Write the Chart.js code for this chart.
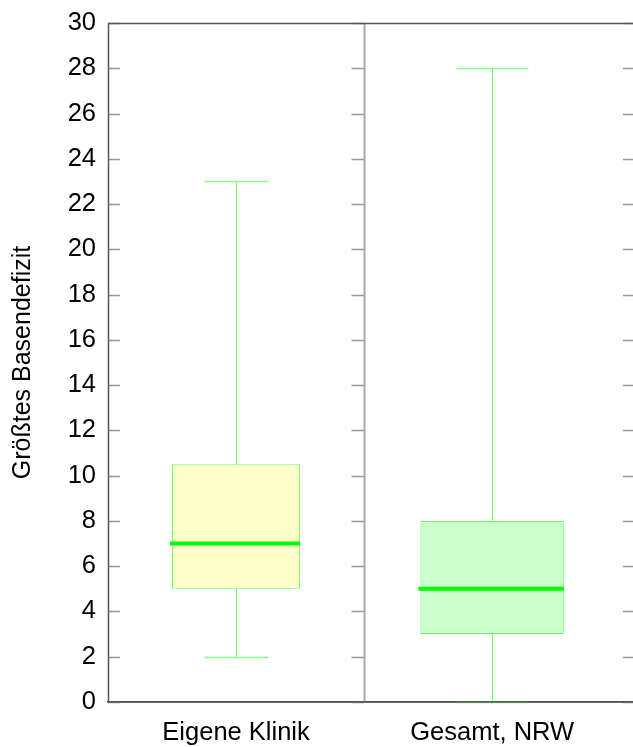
<!DOCTYPE html>
<html lang="de">
<head>
    <meta charset="UTF-8">
    <script src="https://cdn.jsdelivr.net/npm/chart.js"></script>
    <title>Größtes Basendefizit</title>
    <style>
        html, body { margin: 0; padding: 0; background: #fff; overflow: hidden; }
        #wrap { width: 633px; height: 747px; }
    </style>
</head>
<body>
    <div id="wrap">
        <canvas id="boxChart" width="633" height="747"></canvas>
    </div>

    <script>
        // Box plot values
        const categories = ['Eigene Klinik', 'Gesamt, NRW'];
        const minVals = [2, 0];
        const q1Vals = [5, 3];
        const medianVals = [7, 5];
        const q3Vals = [10.5, 8];
        const maxVals = [23, 28];

        const yTicks = [0, 2, 4, 6, 8, 10, 12, 14, 16, 18, 20, 22, 24, 26, 28, 30];

        // styling
        const boxFills = ['#ffffcc', '#ccffcc'];
        const boxShare = [0.5, 0.56];
        const lineGreen = '#66ff66';
        const medianGreen = '#00ff00';
        const fontName = "'Liberation Sans', Arial, sans-serif";

        // one dataset per box so each can have its own width
        const datasets = categories.map((cat, i) => ({
            label: cat,
            data: [{ x: i + 0.5, y: [q1Vals[i], q3Vals[i]] }],
            backgroundColor: boxFills[i],
            borderColor: lineGreen,
            borderWidth: 1,
            borderSkipped: false,
            barPercentage: boxShare[i],
            categoryPercentage: 1,
            grouped: false,
        }));

        // frame, divider, inner ticks, whiskers and medians
        const boxPlotExtras = {
            id: 'boxPlotExtras',
            beforeDatasetsDraw(chart) {
                const { ctx, chartArea, scales } = chart;
                const x = scales.x, y = scales.y;
                const divX = Math.round(x.getPixelForValue(1)) + 0.5;
                ctx.save();
                // ticks pointing into the plot
                ctx.strokeStyle = '#999';
                ctx.lineWidth = 1.5;
                yTicks.forEach((v) => {
                    const py = Math.round(y.getPixelForValue(v)) + 0.5;
                    ctx.beginPath();
                    ctx.moveTo(chartArea.left, py); ctx.lineTo(chartArea.left + 12, py);
                    ctx.moveTo(divX - 13, py); ctx.lineTo(divX, py);
                    ctx.moveTo(chartArea.right - 10, py); ctx.lineTo(chartArea.right, py);
                    ctx.stroke();
                });
                // divider between the two groups
                ctx.strokeStyle = '#aaa';
                ctx.lineWidth = 2;
                ctx.beginPath();
                ctx.moveTo(divX, chartArea.top); ctx.lineTo(divX, chartArea.bottom);
                ctx.stroke();
                // top and left border
                ctx.strokeStyle = '#555';
                ctx.lineWidth = 1.5;
                ctx.beginPath();
                ctx.moveTo(chartArea.left + 0.5, chartArea.bottom);
                ctx.lineTo(chartArea.left + 0.5, chartArea.top + 0.5);
                ctx.lineTo(chartArea.right, chartArea.top + 0.5);
                ctx.stroke();
                ctx.restore();
            },
            afterDatasetsDraw(chart) {
                const { ctx, chartArea, scales } = chart;
                const y = scales.y;
                ctx.save();
                categories.forEach((cat, i) => {
                    const bar = chart.getDatasetMeta(i).data[0];
                    const cx = Math.round(bar.x) + 0.5;
                    const half = bar.width / 2;
                    const pMin = Math.round(y.getPixelForValue(minVals[i])) + 0.5;
                    const pMax = Math.round(y.getPixelForValue(maxVals[i])) + 0.5;
                    const pQ1 = y.getPixelForValue(q1Vals[i]);
                    const pQ3 = y.getPixelForValue(q3Vals[i]);
                    const pMed = y.getPixelForValue(medianVals[i]);

                    // whiskers
                    ctx.strokeStyle = lineGreen;
                    ctx.lineWidth = 1;
                    ctx.beginPath();
                    ctx.moveTo(cx, pQ3); ctx.lineTo(cx, pMax);
                    ctx.moveTo(cx, pQ1); ctx.lineTo(cx, pMin);
                    ctx.stroke();
                    // caps, half the box width
                    ctx.strokeStyle = '#88ff88';
                    ctx.lineWidth = 1.5;
                    ctx.beginPath();
                    ctx.moveTo(cx - half / 2, pMax); ctx.lineTo(cx + half / 2, pMax);
                    ctx.moveTo(cx - half / 2, pMin); ctx.lineTo(cx + half / 2, pMin);
                    ctx.stroke();
                    // median
                    ctx.strokeStyle = medianGreen;
                    ctx.lineWidth = 4;
                    ctx.beginPath();
                    ctx.moveTo(bar.x - half - 2, pMed); ctx.lineTo(bar.x + half, pMed);
                    ctx.stroke();
                });
                // bottom axis line on top of anything sitting at zero
                ctx.strokeStyle = '#555';
                ctx.lineWidth = 1.5;
                ctx.beginPath();
                ctx.moveTo(chartArea.left, chartArea.bottom);
                ctx.lineTo(chartArea.right, chartArea.bottom);
                ctx.stroke();
                ctx.restore();
            },
        };

        const ctx = document.getElementById('boxChart').getContext('2d');
        const chart = new Chart(ctx, {
            type: 'bar',
            data: { datasets: datasets },
            options: {
                responsive: false,
                animation: false,
                layout: { padding: { top: 23, right: 0, left: 0, bottom: 0 } },
                plugins: {
                    legend: { display: false },
                    tooltip: { enabled: false },
                },
                scales: {
                    x: {
                        type: 'linear',
                        min: 0,
                        max: 2.05,
                        offset: false,
                        grid: { display: false },
                        border: { color: '#555', width: 1.5 },
                        afterBuildTicks: (s) => { s.ticks = categories.map((c, i) => ({ value: i + 0.5 })); },
                        afterFit: (s) => { s.height = 45; },
                        ticks: {
                            color: '#000',
                            padding: 8,
                            maxRotation: 0,
                            autoSkip: false,
                            font: { family: fontName, size: 25.5 },
                            callback: (v, i) => categories[i],
                        },
                    },
                    y: {
                        type: 'linear',
                        min: 0,
                        max: 30,
                        grid: { display: false },
                        border: { display: false },
                        afterBuildTicks: (s) => { s.ticks = yTicks.map((v) => ({ value: v })); },
                        afterFit: (s) => { s.width = 108; },
                        ticks: {
                            color: '#000',
                            padding: 4,
                            font: { family: fontName, size: 25.5 },
                        },
                        title: {
                            display: true,
                            text: 'Größtes Basendefizit',
                            color: '#000',
                            padding: { top: 8, bottom: 0 },
                            font: { family: fontName, size: 25 },
                        },
                    },
                },
            },
            plugins: [boxPlotExtras],
        });
    </script>
</body>
</html>
